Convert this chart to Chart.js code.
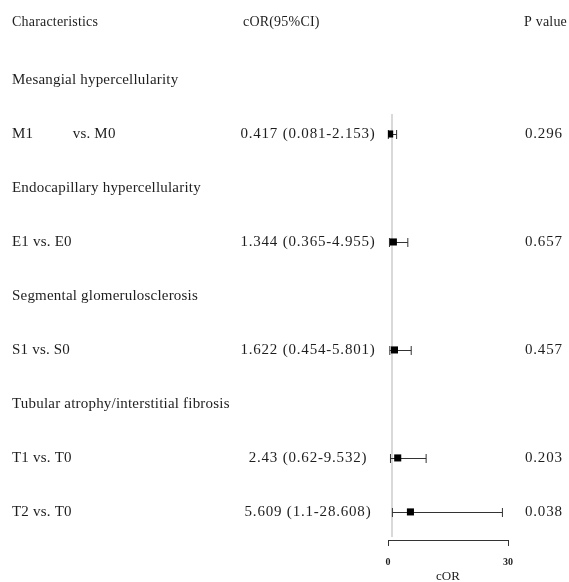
<!DOCTYPE html>
<html>
<head>
<meta charset="utf-8">
<script src="https://cdn.jsdelivr.net/npm/chart.js@4"></script>
<style>
  html, body { margin: 0; padding: 0; background: #fff; }
  #wrap { width: 569px; height: 582px; position: relative; }
</style>
</head>
<body>
<div id="wrap"><canvas id="forest"></canvas></div>
<script>
// Forest plot data
const headers = ['Characteristics', 'cOR(95%CI)', 'P value'];
const groups = [
  'Mesangial hypercellularity',
  'Endocapillary hypercellularity',
  'Segmental glomerulosclerosis',
  'Tubular atrophy/interstitial fibrosis'
];
const comparisons = ['M1          vs. M0', 'E1 vs. E0', 'S1 vs. S0', 'T1 vs. T0', 'T2 vs. T0'];
const comparisonGroup = [0, 1, 2, 3, 3];
const cor = [0.417, 1.344, 1.622, 2.43, 5.609];
const ciLow = [0.081, 0.365, 0.454, 0.62, 1.1];
const ciHigh = [2.153, 4.955, 5.801, 9.532, 28.608];
const pValues = ['0.296', '0.657', '0.457', '0.203', '0.038'];
const xTicks = [0, 30];
const refValue = 1;

// work out which row each line sits on (group title, then its comparisons)
const groupRow = [];
const compRow = [];
let row = 1;
groups.forEach((g, gi) => {
  groupRow.push(row++);
  comparisonGroup.forEach((cg, ci) => {
    if (cg === gi) compRow.push(row++);
  });
});

const TEXT = '#1e1e1e';
const SERIF = '"Liberation Serif", "Times New Roman", serif';

const forestPlugin = {
  id: 'forest',
  beforeDatasetsDraw(chart) {
    const { ctx, scales: { x, y } } = chart;
    ctx.save();
    // reference line at cOR = 1
    ctx.strokeStyle = '#d9d9d9';
    ctx.lineWidth = 2;
    ctx.beginPath();
    ctx.moveTo(x.getPixelForValue(refValue), y.getPixelForValue(1.63));
    ctx.lineTo(x.getPixelForValue(refValue), y.bottom - 3);
    ctx.stroke();
    // confidence intervals
    ctx.strokeStyle = '#333';
    ctx.lineWidth = 1;
    cor.forEach((v, i) => {
      const py = Math.round(y.getPixelForValue(compRow[i])) + 0.5;
      const x0 = x.getPixelForValue(ciLow[i]);
      const x1 = x.getPixelForValue(ciHigh[i]);
      ctx.beginPath();
      ctx.moveTo(x0, py);
      ctx.lineTo(x1, py);
      ctx.moveTo(x0, py - 4.5);
      ctx.lineTo(x0, py + 4.5);
      ctx.moveTo(x1, py - 4.5);
      ctx.lineTo(x1, py + 4.5);
      ctx.stroke();
    });
    ctx.restore();
  },
  afterDraw(chart) {
    const { ctx, scales: { y } } = chart;
    ctx.save();
    ctx.fillStyle = TEXT;
    ctx.textBaseline = 'middle';
    // header row
    const hy = y.getPixelForValue(-0.07);
    ctx.font = '14px ' + SERIF;
    ctx.letterSpacing = '0.2px';
    ctx.textAlign = 'left';
    ctx.fillText(headers[0], 12, hy);
    ctx.fillText(headers[1], 243, hy);
    ctx.fillText(headers[2], 524, hy);
    // group titles
    ctx.font = '15px ' + SERIF;
    groups.forEach((g, i) => {
      ctx.fillText(g, 12, y.getPixelForValue(groupRow[i]));
    });
    // comparisons
    comparisons.forEach((c, i) => {
      const py = y.getPixelForValue(compRow[i]);
      ctx.letterSpacing = '0.2px';
      ctx.textAlign = 'left';
      ctx.fillText(c, 12, py);
      ctx.letterSpacing = '0.8px';
      ctx.textAlign = 'center';
      ctx.fillText(`${cor[i]} (${ciLow[i]}-${ciHigh[i]})`, 308, py);
      ctx.textAlign = 'left';
      ctx.fillText(pValues[i], 525, py);
    });
    ctx.restore();
  }
};

new Chart(document.getElementById('forest'), {
  type: 'scatter',
  data: {
    datasets: [{
      data: cor.map((v, i) => ({ x: v, y: compRow[i] })),
      pointStyle: 'rect',
      pointRadius: 5,
      pointBorderWidth: 0,
      backgroundColor: '#000',
      borderColor: '#000'
    }]
  },
  options: {
    responsive: true,
    maintainAspectRatio: false,
    animation: false,
    layout: { padding: { left: 388, right: 61, top: 26, bottom: -1 } },
    plugins: {
      legend: { display: false },
      tooltip: { enabled: false }
    },
    scales: {
      x: {
        type: 'linear',
        min: 0,
        max: 30,
        afterBuildTicks(scale) {
          scale.ticks = xTicks.map(v => ({ value: v }));
        },
        border: { display: true, color: '#333', width: 1 },
        grid: { drawOnChartArea: false, tickLength: 6, color: '#333' },
        ticks: {
          padding: 10,
          color: TEXT,
          font: { family: SERIF, size: 10, weight: 'bold', lineHeight: 1.2 },
          maxRotation: 0
        },
        title: {
          display: true,
          text: 'cOR',
          color: TEXT,
          padding: { top: -8, bottom: 0 },
          font: { family: SERIF, size: 13, lineHeight: 1 }
        }
      },
      y: {
        type: 'linear',
        display: false,
        reverse: true,
        min: 0,
        max: 9.52
      }
    }
  },
  plugins: [forestPlugin]
});
</script>
</body>
</html>
